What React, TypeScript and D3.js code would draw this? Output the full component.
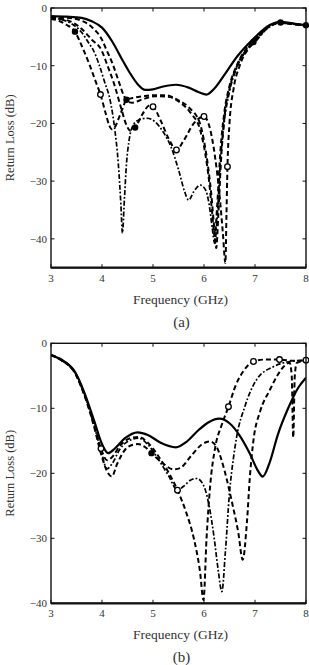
import React from 'react';
import * as d3 from 'd3';

type Pt = [number, number];

// ---------- shared axis values ----------
const freqTicks = [3, 4, 5, 6, 7, 8];
const lossTicksA = [0, -10, -20, -30, -40];
const lossTicksB = [0, -10, -20, -30, -40];

// ---------- panel (a) ----------
const solidA: Pt[] = [
  [3, -1.4], [3.3, -1.5], [3.6, -1.7], [3.8, -2.3], [4.0, -3.4], [4.2, -5.8], [4.4, -9],
  [4.55, -11.3], [4.7, -13.2], [4.85, -14.2], [5.0, -14.1], [5.2, -13.6], [5.45, -13.3],
  [5.7, -13.8], [5.9, -14.6], [6.05, -15], [6.2, -14], [6.4, -11.6], [6.65, -8.4],
  [6.95, -5.5], [7.3, -2.9], [7.5, -2.4], [7.7, -2.6], [8, -3],
];
const curveA1: Pt[] = [
  [3, -1.9], [3.15, -2.2], [3.3, -2.9], [3.47, -4.1], [3.6, -6.5], [3.75, -9.7], [3.87, -12.6],
  [3.97, -15], [4.07, -18.2], [4.14, -20.3], [4.19, -21], [4.24, -20.8], [4.32, -19.3],
  [4.4, -17.5], [4.48, -15.9], [4.6, -15.6], [4.8, -15.3], [5.0, -15.1], [5.25, -15.1],
  [5.5, -16], [5.7, -17.2], [5.92, -20], [6.0, -23], [6.08, -27.5], [6.14, -32], [6.19, -37],
  [6.24, -41.6], [6.28, -36], [6.33, -27], [6.4, -19], [6.5, -14], [6.65, -10], [6.85, -7],
  [6.97, -5.9], [7.25, -3.3], [7.5, -2.6], [7.75, -2.8], [8, -3.1],
];
const curveA2: Pt[] = [
  [3, -1.7], [3.2, -2.0], [3.4, -2.7], [3.6, -4.2], [3.75, -6.2], [3.83, -7.3], [3.95, -10],
  [4.05, -12.8], [4.16, -16], [4.25, -21], [4.32, -27], [4.37, -34], [4.4, -39], [4.44, -33],
  [4.48, -27], [4.53, -23], [4.6, -20.5], [4.72, -19.4], [4.88, -19.1], [5.05, -19.8],
  [5.2, -21.5], [5.35, -24], [5.5, -28], [5.62, -31.8], [5.7, -33.3], [5.8, -31.8],
  [5.93, -30.7], [6.03, -31.5], [6.1, -34], [6.16, -38], [6.21, -40.8], [6.26, -36],
  [6.32, -27], [6.4, -19.5], [6.5, -14.5], [6.65, -10.2], [6.85, -7.2], [7.0, -5.9],
  [7.25, -3.5], [7.5, -2.6], [7.75, -2.8], [8, -3.1],
];
const curveA3: Pt[] = [
  [3, -1.8], [3.2, -1.9], [3.4, -2.4], [3.6, -3.6], [3.8, -5.5], [3.99, -7.3], [4.1, -9.8],
  [4.25, -13.5], [4.38, -17.5], [4.48, -20.3], [4.56, -21.3], [4.65, -20.7], [4.8, -18.3],
  [4.93, -16.9], [5.0, -17.1], [5.15, -19.5], [5.3, -22.5], [5.46, -24.6], [5.6, -23],
  [5.8, -20], [6.0, -18.8], [6.12, -21], [6.22, -26], [6.3, -32], [6.37, -39], [6.42, -44.2],
  [6.44, -36], [6.46, -27.5], [6.5, -20], [6.58, -14], [6.7, -10], [6.85, -7.3], [7.0, -5.8],
  [7.25, -3.4], [7.5, -2.5], [7.75, -2.8], [8, -3.1],
];
const curveA4: Pt[] = [
  [3, -1.6], [3.3, -1.7], [3.6, -2.2], [3.8, -3.3], [4.0, -5.5], [4.09, -7.3], [4.2, -9.5],
  [4.32, -12.5], [4.42, -15], [4.5, -16.2], [4.6, -16.4], [4.8, -15.8], [5.05, -15.3],
  [5.3, -15.4], [5.55, -16.5], [5.75, -18.3], [5.92, -21], [6.02, -25], [6.1, -30],
  [6.16, -35.5], [6.21, -39.5], [6.26, -34], [6.32, -25], [6.4, -18], [6.5, -13.5],
  [6.65, -9.8], [6.85, -6.8], [7.0, -5.5], [7.25, -3.2], [7.5, -2.5], [7.75, -2.7], [8, -3],
];

// ---------- panel (b) ----------
const solidB: Pt[] = [
  [3, -1.8], [3.2, -2.5], [3.47, -4.4], [3.65, -7.5], [3.85, -12], [4.0, -15.5], [4.12, -16.9],
  [4.25, -16.2], [4.45, -14.6], [4.7, -13.7], [4.9, -14.1], [5.15, -15.3], [5.45, -16],
  [5.65, -15.2], [5.9, -13.3], [6.1, -12.1], [6.3, -11.6], [6.5, -12.3], [6.7, -14.2],
  [6.9, -17], [7.05, -19.5], [7.15, -20.5], [7.28, -18.5], [7.45, -14], [7.65, -10],
  [7.85, -6.8], [8, -5.3],
];
const curveB1: Pt[] = [
  [3, -1.8], [3.2, -2.5], [3.47, -4.5], [3.65, -7.7], [3.85, -12.6], [3.98, -16.2], [4.1, -18],
  [4.2, -17.5], [4.35, -15.8], [4.55, -14.6], [4.72, -14.4], [4.9, -15.3], [5.1, -17.3],
  [5.3, -19.8], [5.48, -22.6], [5.65, -26], [5.8, -30], [5.92, -35], [5.99, -39.5],
  [6.05, -30], [6.12, -22], [6.22, -16], [6.35, -12.5], [6.48, -9.75], [6.62, -6.5],
  [6.78, -4.2], [6.97, -2.8], [7.2, -2.5], [7.48, -2.5], [7.75, -2.7], [8, -2.6],
];
const curveB2: Pt[] = [
  [3, -1.8], [3.2, -2.6], [3.47, -4.6], [3.65, -7.8], [3.85, -12.8], [3.98, -16.5], [4.1, -19.3],
  [4.2, -18.5], [4.35, -16.3], [4.55, -14.9], [4.72, -14.6], [4.9, -15.6], [5.1, -17.8],
  [5.3, -20.3], [5.48, -22.6], [5.6, -22], [5.75, -21], [5.86, -20.8], [6.0, -22], [6.1, -25],
  [6.2, -30], [6.28, -35], [6.35, -38.2], [6.42, -32], [6.5, -23], [6.58, -17.5],
  [6.64, -14.4], [6.8, -9.75], [7.03, -5.6], [7.36, -3.6], [7.69, -2.8], [8, -2.6],
];
const curveB3: Pt[] = [
  [3, -1.8], [3.2, -2.6], [3.47, -4.6], [3.65, -7.9], [3.85, -13], [3.98, -17], [4.12, -20],
  [4.19, -20.5], [4.3, -18.5], [4.5, -16], [4.7, -15.5], [4.85, -16], [4.97, -16.9],
  [5.2, -18.5], [5.4, -19.4], [5.53, -19.2], [5.75, -17.3], [5.95, -15.6], [6.12, -15.1],
  [6.25, -16], [6.4, -19.5], [6.55, -24.5], [6.67, -29], [6.76, -33.3], [6.84, -27.7],
  [6.9, -20.5], [6.97, -14.9], [7.1, -10.5], [7.29, -7.2], [7.45, -4.8], [7.56, -3.6],
  [7.68, -3.0], [7.72, -5], [7.75, -14.5], [7.78, -5], [7.82, -3.0], [8, -2.7],
];

// ---------- series styling ----------
type LineKind = 'solid' | 'dash' | 'dashdot';
interface Series {
  data: Pt[];
  kind: LineKind;
  filled: number[]; // frequencies carrying a filled circle
  open: number[]; // frequencies carrying an open circle
}

const seriesA: Series[] = [
  { data: curveA2, kind: 'dashdot', filled: [], open: [] },
  { data: curveA3, kind: 'dash', filled: [4.65], open: [5.0, 5.46, 6.0, 6.46] },
  { data: curveA1, kind: 'dash', filled: [3.47, 4.48, 6.97], open: [3.97] },
  { data: curveA4, kind: 'dash', filled: [7.5, 8], open: [] },
  { data: solidA, kind: 'solid', filled: [], open: [] },
];

const seriesB: Series[] = [
  { data: curveB2, kind: 'dashdot', filled: [], open: [] },
  { data: curveB3, kind: 'dash', filled: [4.97], open: [] },
  { data: curveB1, kind: 'dash', filled: [], open: [3.98, 5.48, 6.48, 6.97, 7.48, 8] },
  { data: solidB, kind: 'solid', filled: [], open: [] },
];

const strokeFor: Record<LineKind, { w: number; dash?: string }> = {
  solid: { w: 2.2 },
  dash: { w: 2, dash: '5,3' },
  dashdot: { w: 1.7, dash: '5,2,1.8,2' },
};

const FONT = '"Liberation Serif", "Times New Roman", "DejaVu Serif", serif';
const TEXT = '#333';

interface PanelProps {
  series: Series[];
  yMin: number;
  yTicks: number[];
  top: number;
  bottom: number;
  tag: string;
  id: string;
}

function Panel({ series, yMin, yTicks, top, bottom, tag, id }: PanelProps) {
  const left = 51;
  const right = 306;
  const x = d3.scaleLinear().domain([3, 8]).range([left, right]);
  const y = d3.scaleLinear().domain([yMin, 0]).range([bottom, top]);
  const line = d3
    .line<Pt>()
    .x((d) => x(d[0]))
    .y((d) => y(d[1]))
    .curve(d3.curveMonotoneX);
  const tickLen = 3.5;
  const at = (s: Series, f: number) => s.data.find((p) => Math.abs(p[0] - f) < 1e-6);
  const midX = (left + right) / 2;
  const midY = (top + bottom) / 2;

  return (
    <g>
      <defs>
        <clipPath id={id}>
          <rect x={left} y={top} width={right - left} height={bottom - top} />
        </clipPath>
      </defs>
      <g clipPath={`url(#${id})`}>
        {series.map((s, i) => {
          const st = strokeFor[s.kind];
          return (
            <path
              key={i}
              d={line(s.data) || ''}
              fill="none"
              stroke="#000"
              strokeWidth={st.w}
              strokeDasharray={st.dash}
              strokeLinejoin="round"
            />
          );
        })}
      </g>
      {series.map((s, i) => (
        <g key={'m' + i}>
          {s.filled.map((f) => {
            const p = at(s, f);
            return p ? <circle key={'f' + f} cx={x(p[0])} cy={y(p[1])} r={3.2} fill="#000" /> : null;
          })}
          {s.open.map((f) => {
            const p = at(s, f);
            return p ? (
              <circle key={'o' + f} cx={x(p[0])} cy={y(p[1])} r={2.8} fill="#fff" stroke="#000" strokeWidth={1.3} />
            ) : null;
          })}
        </g>
      ))}
      {/* frame */}
      <rect x={left} y={top} width={right - left} height={bottom - top} fill="none" stroke="#111" strokeWidth={1.4} />
      <line x1={left} x2={right} y1={bottom} y2={bottom} stroke="#111" strokeWidth={2.2} />
      {/* ticks pointing inward on all four sides */}
      {freqTicks.map((f) => (
        <g key={'xt' + f}>
          <line x1={x(f)} x2={x(f)} y1={bottom} y2={bottom - tickLen} stroke="#111" strokeWidth={1} />
          <line x1={x(f)} x2={x(f)} y1={top} y2={top + tickLen} stroke="#111" strokeWidth={1} />
          <text
            x={x(f)}
            y={bottom + 14}
            textAnchor="middle"
            style={{ fontFamily: FONT }}
            fontSize={11}
            fill={TEXT}
          >
            {f}
          </text>
        </g>
      ))}
      {yTicks.map((v) => (
        <g key={'yt' + v}>
          <line x1={left} x2={left + tickLen} y1={y(v)} y2={y(v)} stroke="#111" strokeWidth={1} />
          <line x1={right} x2={right - tickLen} y1={y(v)} y2={y(v)} stroke="#111" strokeWidth={1} />
          <text
            x={left - 4}
            y={y(v) + 4}
            textAnchor="end"
            style={{ fontFamily: FONT }}
            fontSize={11}
            fill={TEXT}
          >
            {v === 0 ? '0' : '\u2212' + Math.abs(v)}
          </text>
        </g>
      ))}
      <text
        transform={`translate(14,${midY}) rotate(-90)`}
        textAnchor="middle"
        style={{ fontFamily: FONT }}
        fontSize={12.5}
        fill={TEXT}
      >
        Return Loss (dB)
      </text>
      <text x={midX + 2} y={bottom + 36} textAnchor="middle" style={{ fontFamily: FONT }} fontSize={13.5} fill={TEXT}>
        Frequency (GHz)
      </text>
      <text x={midX + 3} y={bottom + 59} textAnchor="middle" style={{ fontFamily: FONT }} fontSize={15} fill={TEXT}>
        {tag}
      </text>
    </g>
  );
}

export default function App() {
  return (
    <svg
      width={309}
      height={665}
      viewBox="0 0 309 665"
      style={{ position: 'absolute', left: 0, top: 0, background: '#fff' }}
    >
      <rect x={0} y={0} width={309} height={665} fill="#fff" />
      <Panel series={seriesA} yMin={-45} yTicks={lossTicksA} top={8} bottom={267.7} tag="(a)" id="clipA" />
      <Panel series={seriesB} yMin={-40} yTicks={lossTicksB} top={343.3} bottom={603.3} tag="(b)" id="clipB" />
    </svg>
  );
}
